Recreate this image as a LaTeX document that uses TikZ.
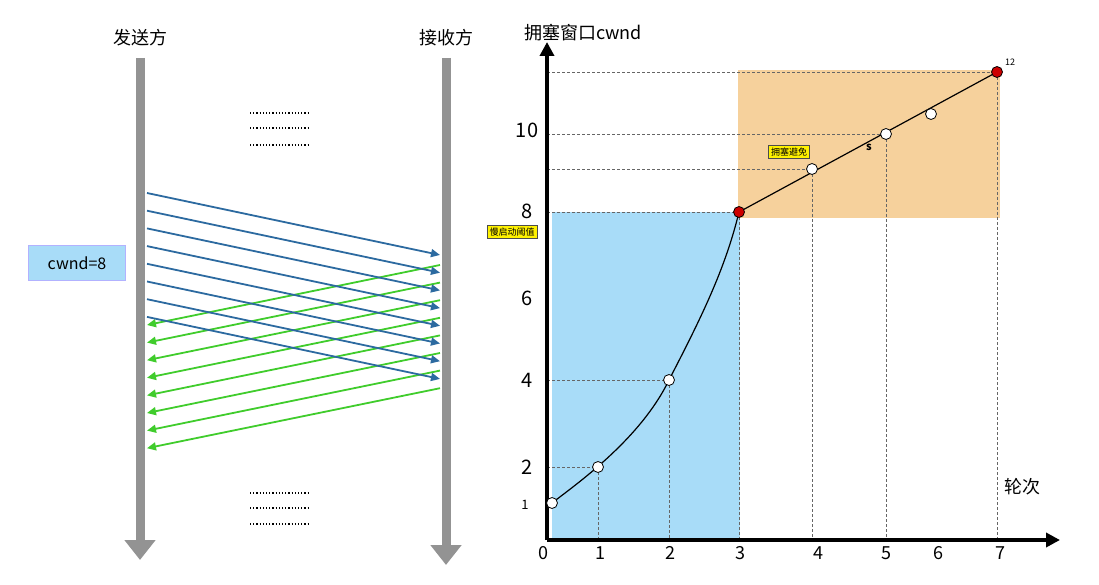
\documentclass[tikz,border=0pt]{standalone}
\usepackage{fontspec}
\setmainfont{Noto Sans CJK SC}
\usetikzlibrary{arrows.meta}
\definecolor{fillb}{HTML}{A8DCF8}
\definecolor{fillo}{HTML}{F6D19C}
\definecolor{arb}{HTML}{2C6AA0}
\definecolor{arg}{HTML}{40CC2C}
\begin{document}
\begin{tikzpicture}[x=1pt,y=-1pt,
  bar/.style={line width=9pt,draw=gray!85,-{Triangle[length=20pt,width=30pt]}},
  blu/.style={draw=arb,line width=1.8pt,-{Triangle[length=9pt,width=8pt]}},
  grn/.style={draw=arg,line width=1.8pt,-{Triangle[length=9pt,width=8pt]}},
  dots/.style={dotted,line width=1.2pt},
  grid/.style={densely dashed,draw=gray!80!black,line width=0.7pt},
  pt/.style={circle,draw=black,fill=white,inner sep=0pt,minimum size=11pt,line width=0.8pt},
  rpt/.style={pt,fill=red!80!black},
  tag/.style={draw=black!70,fill=yellow,font=\fontsize{9}{10}\selectfont,inner sep=2.5pt},
  lab/.style={font=\fontsize{20}{22}\selectfont}]
\useasboundingbox (0,0) rectangle (1099,585);
% left
\coordinate (s0) at (140,58); \coordinate (s1) at (140,560);
\coordinate (r0) at (446,58); \coordinate (r1) at (446,565);
\draw[bar] (s0) -- (s1);
\draw[bar] (r0) -- (r1);
\node[font=\fontsize{18}{20}\selectfont] (snd) at (140,38) {发送方};
\node[font=\fontsize{18}{20}\selectfont] (rcv) at (446,38) {接收方};
\foreach \y in {113,128,145,493,508,524} \draw[dots] (250,\y) -- (310,\y);
\node[draw=blue!30,fill=fillb,minimum width=97pt,minimum height=35pt,font=\fontsize{16}{18}\selectfont] (cw) at (77,263) {cwnd=8};
\foreach \i in {0,...,7} {
  \coordinate (b\i) at (147,193+17.7*\i);
  \coordinate (be\i) at (440,255+17.7*\i);
  \draw[blu] (b\i) -- (be\i);
  \coordinate (g\i) at (440,265+17.6*\i);
  \coordinate (ge\i) at (147,325+17.6*\i);
  \draw[grn] (g\i) -- (ge\i);
}
% right chart
\fill[fillb] (552,212) rectangle (740,540);
\fill[fillo] (738,70) rectangle (1000,218);
\coordinate (O) at (547,540);
\coordinate (P1) at (552,503); \coordinate (P2) at (598,467); \coordinate (P4) at (669,380);
\coordinate (P8) at (739,212); \coordinate (Q1) at (812,169); \coordinate (Q2) at (886,134);
\coordinate (Q3) at (931,114); \coordinate (Q4) at (997,72);
\foreach \p in {P2,P4,P8,Q1,Q2,Q4} {\draw[grid] (O |- \p) -- (\p); \draw[grid] (\p) -- (\p |- O);}
\draw[grid] (O |- P1) -- (P1);
\draw[line width=1.2pt] (P1) .. controls (575,485) and (640,440) .. (P4) .. controls (700,320) and (725,270) .. (P8);
\draw[line width=1.2pt] (P8) -- (Q4);
\draw[line width=3.5pt,-{Triangle[length=14pt,width=14pt]}] (O) -- (547,42);
\draw[line width=3.5pt,-{Triangle[length=14pt,width=14pt]}] (O) -- (1060,540);
\foreach \p in {P1,P2,P4,Q1,Q2,Q3} \node[pt] at (\p) {};
\node[rpt] (rp8) at (P8) {}; \node[rpt] (rq4) at (Q4) {};
\foreach \x/\t in {543/0,600/1,670/2,740/3,818/4,886/5,938/6,1000/7} \node[lab,font=\fontsize{18}{20}\selectfont] at (\x,553) {\t};
\foreach \y/\t in {130/10,211/8,298/6,380/4,467/2} \node[lab] at (527,\y) {\t};
\node[font=\fontsize{13}{14}\selectfont] at (525,505) {1};
\node[font=\fontsize{18}{20}\selectfont] (yl) at (583,33) {拥塞窗口cwnd};
\node[font=\fontsize{18}{20}\selectfont] (xl) at (1022,487) {轮次};
\node[tag] (t1) at (512,232) {慢启动阈值};
\node[tag] (t2) at (789,152) {拥塞避免};
\node[font=\bfseries\fontsize{11}{12}\selectfont] at (869,147) {s};
\node[font=\fontsize{9}{10}\selectfont] at (1010,62) {12};
\end{tikzpicture}
\end{document}
